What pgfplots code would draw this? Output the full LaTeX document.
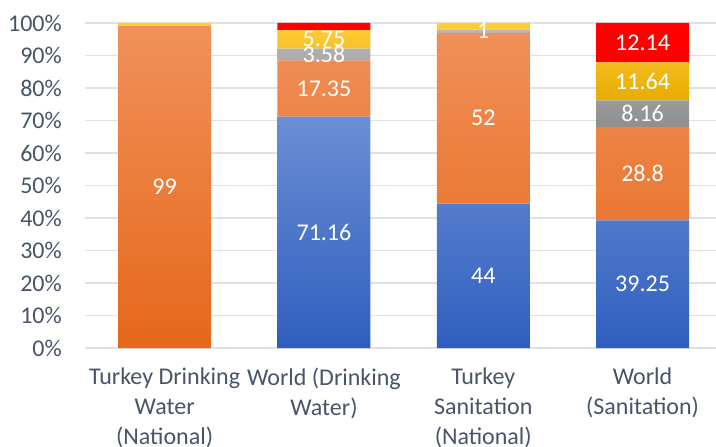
\documentclass[border=0pt]{standalone}
\usepackage{pgfplots}
\pgfplotsset{compat=1.18}
\usepackage{fontspec}
\setmainfont{Carlito}
\definecolor{tickgray}{RGB}{72,84,104}
\definecolor{gridgray}{RGB}{222,225,230}
\definecolor{blueT}{RGB}{108,143,213}
\definecolor{blueB}{RGB}{46,94,190}
\definecolor{orT}{RGB}{241,144,90}
\definecolor{orB}{RGB}{229,104,26}
\definecolor{grT}{RGB}{184,184,184}
\definecolor{grB}{RGB}{143,143,143}
\definecolor{yeT}{RGB}{255,204,60}
\definecolor{yeB}{RGB}{232,172,0}
\definecolor{redF}{RGB}{255,0,0}
\begin{document}
\begin{tikzpicture}
\useasboundingbox (-85bp,-99bp) rectangle (631bp,348bp);
\clip (-85bp,-99bp) rectangle (631bp,348bp);
\begin{axis}[
  at={(0,0)}, anchor=south west,
  scale only axis, width=631bp, height=325bp,
  ybar stacked, bar width=93bp,
  xmin=-0.5, xmax=3.461, ymin=0, ymax=100,
  xtick={0,1,2,3},
  xticklabels={{Turkey Drinking\\Water\\(National)},{World (Drinking\\Water)},{Turkey\\Sanitation\\(National)},{World\\(Sanitation)}},
  ytick={0,10,...,100},
  yticklabel={\pgfmathprintnumber{\tick}\%},
  /pgf/number format/assume math mode=true,
  axis line style={draw=none},
  major tick length=0pt,
  ymajorgrids, grid style={gridgray, line width=1.5bp},
  tick label style={font=\fontsize{24bp}{30bp}\selectfont, text=tickgray},
  yticklabel style={inner sep=0pt, xshift=-23bp},
  xticklabel style={align=center, inner sep=0pt, yshift=-20bp},
  point meta=explicit symbolic,
  nodes near coords,
  every node near coord/.append style={font=\fontsize{24bp}{28bp}\selectfont, text=white, anchor=center},
]
\addplot[draw=none, top color=blueT, bottom color=blueB] table[x=x,y=v,meta=lab] {
x v lab
0 0 {}
1 71.16 71.16
2 44.44 44
3 39.25 39.25
};
\addplot[draw=none, top color=orT, bottom color=orB] table[x=x,y=v,meta=lab] {
x v lab
0 99 99
1 17.35 17.35
2 52.53 52
3 28.8 28.8
};
\addplot[draw=none, top color=grT, bottom color=grB] table[x=x,y=v,meta=lab] {
x v lab
0 0 {}
1 3.58 3.58
2 1.01 1
3 8.16 8.16
};
\addplot[draw=none, top color=yeT, bottom color=yeB] table[x=x,y=v,meta=lab] {
x v lab
0 1 {}
1 5.75 5.75
2 2.02 {}
3 11.64 11.64
};
\addplot[draw=none, fill=redF] table[x=x,y=v,meta=lab] {
x v lab
0 0 {}
1 2.16 {}
2 0 {}
3 12.15 12.14
};
\end{axis}
\end{tikzpicture}
\end{document}
